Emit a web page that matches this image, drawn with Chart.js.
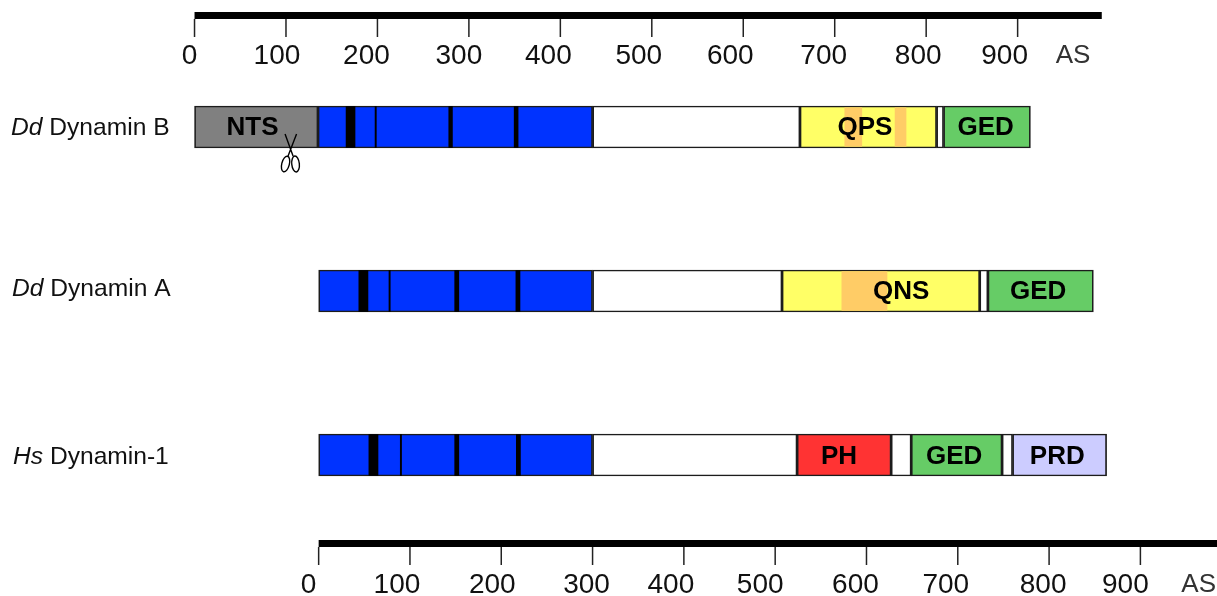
<!DOCTYPE html>
<html>
<head>
<meta charset="utf-8">
<style>
  html, body { margin: 0; padding: 0; background: #fff; overflow: hidden; }
  canvas { display: block; }
</style>
<script src="https://cdn.jsdelivr.net/npm/chart.js@4/dist/chart.umd.min.js"></script>
</head>
<body>
<canvas id="domains" width="1217" height="596"></canvas>
<script>
// Data, all in AS
const proteins = ['Dd Dynamin B', 'Dd Dynamin A', 'Hs Dynamin-1']
const tickValues = [0, 100, 200, 300, 400, 500, 600, 700, 800, 900]
const tickLabels = ['0', '100', '200', '300', '400', '500', '600', '700', '800', '900']
const unitLabel = 'AS'

const dynBEdges = [0, 135, 435.3, 662, 811.4, 819, 914]
const dynBKinds = ['NTS', 'GTPase', 'none', 'rich', 'none', 'GED']
const dynBPatches = [[711, 729.6], [766, 778]]
const dynBMotifs = [[165.7, 175.5], [197.4, 198.8], [278, 282], [349.5, 353.8]]
const dynBNames = ['NTS', 'QPS', 'GED']
const dynBNameAt = [63.4, 733, 865]

const dynAEdges = [0, 300, 507.5, 724, 733, 848.5]
const dynAKinds = ['GTPase', 'none', 'rich', 'none', 'GED']
const dynAPatches = [[573, 622.5]]
const dynAMotifs = [[44, 54], [77, 78.4], [149, 153.5], [216, 220.5]]
const dynANames = ['QNS', 'GED']
const dynANameAt = [638, 788]

const hsEdges = [0, 300, 524, 627, 649, 748.5, 760, 863]
const hsKinds = ['GTPase', 'none', 'PH', 'none', 'GED', 'none', 'PRD']
const hsPatches = []
const hsMotifs = [[55, 65], [89.4, 90.8], [149, 153.5], [216.5, 221]]
const hsNames = ['PH', 'GED', 'PRD']
const hsNameAt = [570, 696, 809]

const cutSite = 105

const kindColors = {
    NTS: '#808080',
    GTPase: '#0033ff',
    none: '#ffffff',
    rich: '#ffff66',
    GED: '#66cc66',
    PH: '#ff3333',
    PRD: '#ccccff'
}

const rowAt = (row, value) => {
    let data = [null, null, null]
    data[row] = value
    return data
}

// Generate datasets for one protein
const proteinDatasets = (row, axis, edges, kinds, patches, motifs) => {
    let sets = []
    kinds.forEach((kind, i) => {
        sets.push({
            label: kind,
            xAxisID: axis,
            data: rowAt(row, [edges[i], edges[i + 1]]),
            backgroundColor: kindColors[kind],
            borderColor: '#1c1c1c',
            borderWidth: 1.7,
            borderSkipped: false,
            barThickness: 42,
            grouped: false,
            order: 3
        })
    })
    patches.forEach((p) => {
        sets.push({
            label: 'patch',
            xAxisID: axis,
            data: rowAt(row, p),
            backgroundColor: '#ffcc66',
            borderWidth: 0,
            barThickness: 38.6,
            grouped: false,
            order: 2
        })
    })
    motifs.forEach((m) => {
        sets.push({
            label: 'motif',
            xAxisID: axis,
            data: rowAt(row, m),
            backgroundColor: '#000000',
            borderWidth: 0,
            barThickness: 41,
            grouped: false,
            order: 1
        })
    })
    return sets
}

const font = 'Liberation Sans, Arial, sans-serif'

const rulerNudgeTop = [-5, -9, -11, -10, -12, -13, -13, -11, -8, -13]
const rulerNudgeBottom = [-10, -13, -9, -6, -13, -15, -11, -12, -6, -15]

const drawRuler = (ctx, scale, end, barTop, tickEnd, labelY, nudge, unitAt) => {
    ctx.fillStyle = '#000'
    let x0 = scale.getPixelForValue(0)
    ctx.fillRect(x0, barTop, scale.getPixelForValue(end) - x0, 7)
    ctx.strokeStyle = '#222'
    ctx.lineWidth = 1.5
    ctx.font = `28px ${font}`
    ctx.textAlign = 'center'
    ctx.textBaseline = 'middle'
    ctx.fillStyle = '#111'
    tickValues.forEach((v, i) => {
        let px = scale.getPixelForValue(v)
        ctx.beginPath()
        ctx.moveTo(px, barTop + 7)
        ctx.lineTo(px, tickEnd)
        ctx.stroke()
        ctx.fillText(tickLabels[i], px + nudge[i], labelY)
    })
    ctx.font = `26px ${font}`
    ctx.fillStyle = '#333'
    ctx.fillText(unitLabel, scale.getPixelForValue(unitAt), labelY)
}

const drawNames = (ctx, scale, rowY, names, at) => {
    ctx.font = `bold 26px ${font}`
    ctx.textAlign = 'center'
    ctx.textBaseline = 'middle'
    ctx.fillStyle = '#000'
    names.forEach((n, i) => {
        ctx.fillText(n, scale.getPixelForValue(at[i]), rowY)
    })
}

const drawProteinLabel = (ctx, text, x, y) => {
    let parts = text.split(' ')
    let genus = parts[0]
    let rest = ' ' + parts.slice(1).join(' ')
    ctx.textAlign = 'left'
    ctx.textBaseline = 'middle'
    ctx.fillStyle = '#111'
    ctx.font = `italic 24.6px ${font}`
    ctx.fillText(genus, x, y)
    let w = ctx.measureText(genus).width
    ctx.font = `24.6px ${font}`
    ctx.fillText(rest, x + w, y)
}

const drawScissors = (ctx, cx) => {
    ctx.strokeStyle = '#000'
    ctx.lineWidth = 1.4
    ctx.beginPath()
    ctx.moveTo(cx - 5.5, 134)
    ctx.lineTo(cx + 2.5, 156)
    ctx.moveTo(cx + 6, 134)
    ctx.lineTo(cx - 2.5, 156)
    ctx.stroke()
    ctx.beginPath()
    ctx.ellipse(cx - 5, 164, 3.8, 8, 0.25, 0, Math.PI * 2)
    ctx.stroke()
    ctx.beginPath()
    ctx.ellipse(cx + 5, 164, 3.8, 8, -0.1, 0, Math.PI * 2)
    ctx.stroke()
}

const annotations = {
    id: 'annotations',
    afterDatasetsDraw: (chart) => {
        let ctx = chart.ctx
        let top = chart.scales.x
        let bottom = chart.scales.x2
        let y = chart.scales.y
        ctx.save()
        drawRuler(ctx, top, 992, 12, 37, 56, rulerNudgeTop, 960.6)
        drawRuler(ctx, bottom, 984, 540, 565, 585, rulerNudgeBottom, 963.8)
        drawNames(ctx, top, y.getPixelForTick(0) + 1, dynBNames, dynBNameAt)
        drawNames(ctx, bottom, y.getPixelForTick(1) + 0.5, dynANames, dynANameAt)
        drawNames(ctx, bottom, y.getPixelForTick(2) + 2, hsNames, hsNameAt)
        drawProteinLabel(ctx, proteins[0], 11, y.getPixelForTick(0) + 1)
        drawProteinLabel(ctx, proteins[1], 12, y.getPixelForTick(1) - 1.5)
        drawProteinLabel(ctx, proteins[2], 13, y.getPixelForTick(2) + 2)
        drawScissors(ctx, top.getPixelForValue(cutSite))
        ctx.restore()
    }
}

const domainChart = new Chart(document.querySelector('canvas#domains'), {
    type: 'bar',
    data: {
        labels: proteins,
        datasets: [
            ...proteinDatasets(0, 'x', dynBEdges, dynBKinds, dynBPatches, dynBMotifs),
            ...proteinDatasets(1, 'x2', dynAEdges, dynAKinds, dynAPatches, dynAMotifs),
            ...proteinDatasets(2, 'x2', hsEdges, hsKinds, hsPatches, hsMotifs)
        ]
    },
    options: {
        indexAxis: 'y',
        responsive: false,
        animation: false,
        layout: { padding: { top: 45, bottom: 59, left: 0, right: 0 } },
        plugins: {
            legend: { display: false },
            tooltip: { enabled: false }
        },
        scales: {
            x: { type: 'linear', position: 'top', display: false, min: -212.7, max: 1118 },
            x2: { type: 'linear', position: 'bottom', display: false, min: -349, max: 983.9 },
            y: { type: 'category', display: false }
        }
    },
    plugins: [annotations]
})
</script>
</body>
</html>
